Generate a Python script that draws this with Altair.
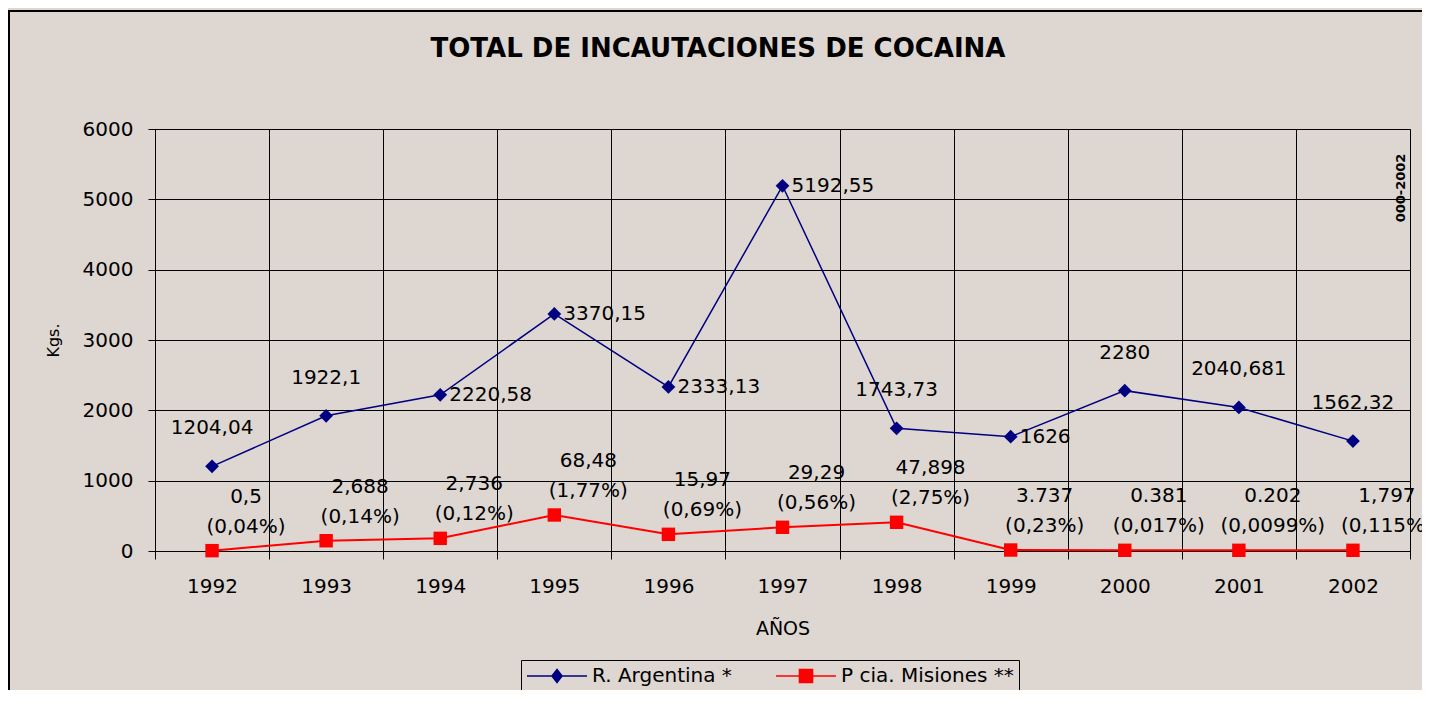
import altair as alt
import pandas as pd

# ---------------- data ----------------
years = ["1992", "1993", "1994", "1995", "1996", "1997", "1998", "1999", "2000", "2001", "2002"]

argentina = [1204.04, 1922.1, 2220.58, 3370.15, 2333.13, 5192.55, 1743.73, 1626, 2280, 2040.681, 1562.32]
argentina_labels = ["1204,04", "1922,1", "2220,58", "3370,15", "2333,13", "5192,55",
                    "1743,73", "1626", "2280", "2040,681", "1562,32"]
argentina_label_side = ["above", "above", "right", "right", "right", "right",
                        "above", "right", "above", "above", "above"]

misiones = [5, 146, 180, 512, 237, 337, 408, 14, 10, 10, 10]
misiones_labels = ["0,5", "2,688", "2,736", "68,48", "15,97", "29,29",
                   "47,898", "3.737", "0.381", "0.202", "1,797"]
misiones_pct = ["(0,04%)", "(0,14%)", "(0,12%)", "(1,77%)", "(0,69%)", "(0,56%)",
                "(2,75%)", "(0,23%)", "(0,017%)", "(0,0099%)", "(0,115%)"]

series_names = ["R. Argentina *", "P cia. Misiones **"]
y_ticks = [0, 1000, 2000, 3000, 4000, 5000, 6000]

TITLE = "TOTAL DE INCAUTACIONES DE COCAINA"
X_TITLE = "AÑOS"
Y_TITLE = "Kgs."
STAMP = "000-2002"

# ---------------- style ----------------
BG = "#ddd6d1"
NAVY = "#000080"
RED = "#ff0000"
FONT = "DejaVu Sans"
W, H = 1255, 422
PAD = {"left": 147, "top": 121, "right": 12, "bottom": 139}

arg_df = pd.DataFrame({"year": years, "value": argentina,
                       "label": argentina_labels, "side": argentina_label_side})
mis_df = pd.DataFrame({"year": years, "value": misiones,
                       "label": misiones_labels, "pct": misiones_pct})
one = pd.DataFrame({"a": [0]})

x_enc = alt.X(
    "year:O",
    scale=alt.Scale(type="band", paddingInner=0, paddingOuter=0, domain=years),
    axis=alt.Axis(
        title=X_TITLE, titleFont=FONT, titleFontSize=19, titleFontWeight="normal",
        titleColor="black", titleY=77, titleBaseline="middle",
        labelAngle=0, labelFont=FONT, labelFontSize=20, labelColor="black",
        labelPadding=17, tickSize=8, tickColor="black", tickBand="extent",
        grid=True, gridColor="black", gridOpacity=1, gridWidth=1,
        domainColor="black", domainWidth=1,
    ),
)
y_enc = alt.Y(
    "value:Q",
    scale=alt.Scale(domain=[0, 6000], nice=False),
    axis=alt.Axis(
        title=Y_TITLE, values=y_ticks, format="d",
        titleFont=FONT, titleFontSize=16, titleFontWeight="normal", titleColor="black",
        titleX=-102, titleY=211, titleAlign="center", titleBaseline="middle", titleAngle=270,
        labelFont=FONT, labelFontSize=20, labelColor="black", labelPadding=15,
        tickSize=7, tickColor="black",
        grid=True, gridColor="black", gridOpacity=1, gridWidth=1,
        domainColor="black", domainWidth=1,
    ),
)

frame = alt.Chart(one).mark_rect(fillOpacity=0, stroke="black", strokeWidth=2).encode(
    x=alt.value(-146), x2=alt.value(W + 40), y=alt.value(-118), y2=alt.value(H + 300)
)

title = alt.Chart(one).mark_text(
    text=TITLE, font=FONT, fontSize=26, fontWeight="bold", color="black",
    align="center", baseline="middle"
).encode(x=alt.value(563), y=alt.value(-80))

stamp = alt.Chart(one).mark_text(
    text=STAMP, font=FONT, fontSize=13, fontWeight="bold", color="black",
    align="center", baseline="middle", angle=270
).encode(x=alt.value(1246), y=alt.value(59))

arg = alt.Chart(arg_df)
mis = alt.Chart(mis_df)

arg_line = arg.mark_line(color=NAVY, strokeWidth=1.5).encode(x=x_enc, y=y_enc)
mis_line = mis.mark_line(color=RED, strokeWidth=2).encode(x=x_enc, y=y_enc)
arg_pts = arg.mark_point(shape="diamond", filled=True, size=190, color=NAVY, opacity=1).encode(x=x_enc, y=y_enc)
mis_pts = mis.mark_point(shape="square", filled=True, size=180, color=RED, opacity=1).encode(x=x_enc, y=y_enc)

txt = dict(font=FONT, fontSize=20, color="black")
arg_above = arg.transform_filter("datum.side == 'above'").mark_text(
    dy=-38, align="center", baseline="middle", **txt).encode(x=x_enc, y=y_enc, text="label:N")
arg_right = arg.transform_filter("datum.side == 'right'").mark_text(
    dx=9, align="left", baseline="middle", **txt).encode(x=x_enc, y=y_enc, text="label:N")
mis_val = mis.mark_text(dx=34, dy=-54, align="center", baseline="middle", **txt).encode(
    x=x_enc, y=y_enc, text="label:N")
mis_pct = mis.mark_text(dx=34, dy=-24, align="center", baseline="middle", **txt).encode(
    x=x_enc, y=y_enc, text="pct:N")

legend = alt.Legend(
    title=None, orient="none", legendX=366, legendY=531, direction="horizontal",
    strokeColor="black", fillColor=BG, padding=5,
    labelFont=FONT, labelFontSize=20, labelColor="black", labelLimit=400,
    symbolSize=400, labelOffset=44, columnPadding=40,
    symbolStrokeWidth=1.6, symbolOpacity=1,
)
sym_paths = [
    "M-1,0L5,0M2,-0.65L2.5,0L2,0.65L1.5,0Z",
    "M-1,0L5,0M1.35,-0.65L2.65,-0.65L2.65,0.65L1.35,0.65Z",
]
legend_layer = alt.Chart(pd.DataFrame({"series": series_names})).transform_filter("false").mark_point(
    filled=True, size=400, strokeWidth=1.6, opacity=1
).encode(
    color=alt.Color("series:N", scale=alt.Scale(domain=series_names, range=[NAVY, RED]), legend=legend),
    stroke=alt.Stroke("series:N", scale=alt.Scale(domain=series_names, range=[NAVY, RED]), legend=legend),
    shape=alt.Shape("series:N", scale=alt.Scale(domain=series_names, range=sym_paths), legend=legend),
)

chart = alt.layer(
    frame, arg_line, mis_line, arg_pts, mis_pts,
    arg_above, arg_right, mis_val, mis_pct, legend_layer, title, stamp
).properties(
    width=W, height=H, autosize=alt.AutoSizeParams(type="none"), padding=PAD
).configure(
    background=BG
).configure_view(
    stroke="#808080", strokeWidth=1
)

chart.save("out.html", embed_options={"renderer": "svg", "actions": False})
